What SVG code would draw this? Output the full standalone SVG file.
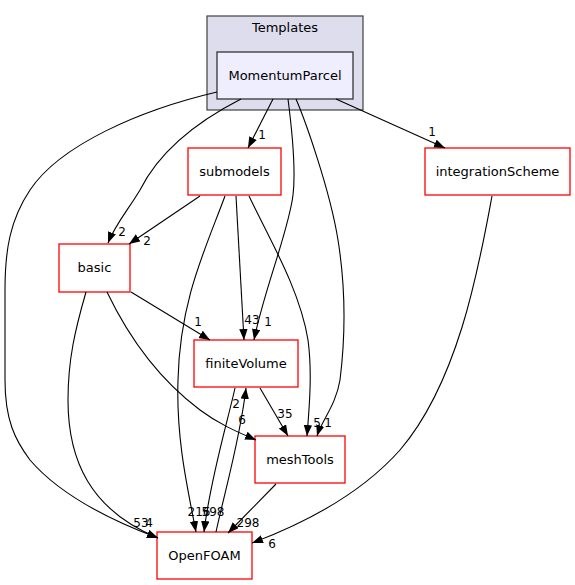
<svg xmlns="http://www.w3.org/2000/svg" width="575" height="585" viewBox="0 0 575 585">
<defs>
<marker id="ah" markerWidth="12" markerHeight="10" refX="11" refY="4.2" orient="auto" markerUnits="userSpaceOnUse">
<path d="M0,0 L11,4.2 L0,8.4 z" fill="#000"/>
</marker>
<style>
.n rect{fill:#fff;stroke:#ff0000;stroke-width:1.3}
.t{font-family:"DejaVu Sans",sans-serif;font-size:13px;fill:#000;text-anchor:middle}
.e path{fill:none;stroke:#000;stroke-width:1.1;marker-end:url(#ah)}
.e text{font-family:"DejaVu Sans",sans-serif;font-size:12px;fill:#000;text-anchor:middle}
</style>
</defs>
<rect width="575" height="585" fill="#fff"/>
<g id="cluster_Templates">
<rect x="207" y="16" width="156" height="94" fill="#ddddee" stroke="#404040" stroke-width="1.2"/>
<text class="t" x="285" y="32">Templates</text>
</g>
<g id="node_MomentumParcel">
<rect x="217" y="52" width="136" height="47" fill="#eeeeff" stroke="#404040" stroke-width="1.4"/>
<text class="t" x="285" y="80">MomentumParcel</text>
</g>
<g id="node_submodels" class="n">
<rect x="188" y="148" width="93" height="47"/>
<text class="t" x="234.5" y="176">submodels</text>
</g>
<g id="node_integrationScheme" class="n">
<rect x="425" y="148" width="145" height="47"/>
<text class="t" x="497.5" y="176">integrationScheme</text>
</g>
<g id="node_basic" class="n">
<rect x="59" y="244" width="71" height="48"/>
<text class="t" x="94.5" y="272">basic</text>
</g>
<g id="node_finiteVolume" class="n">
<rect x="194" y="340" width="104" height="47"/>
<text class="t" x="246" y="368">finiteVolume</text>
</g>
<g id="node_meshTools" class="n">
<rect x="255" y="436" width="90" height="47"/>
<text class="t" x="300" y="464">meshTools</text>
</g>
<g id="node_OpenFOAM" class="n">
<rect x="157" y="532" width="95" height="47"/>
<text class="t" x="204.5" y="560">OpenFOAM</text>
</g>
<g id="connectors" class="e">
<path d="M217,92 C140,110 60,145 30,190 C10,220 5,250 5,290 L5,380 C5,420 15,440 30,460 C60,495 110,520 158,538"/>
<text x="141" y="527">53</text>
<path d="M86,292 C75,330 68,360 68,400 C68,460 90,510 158,538"/>
<text x="149" y="527">4</text>
<path d="M241,99 C200,120 160,150 140,190 C128,210 115,225 108,243"/>
<text x="122" y="236">2</text>
<path d="M273,99 L248,148"/>
<text x="262" y="139">1</text>
<path d="M288,99 C292,130 296,170 293,195 C289,230 264,290 254,340"/>
<text x="268" y="326">1</text>
<path d="M296,99 C305,120 330,190 338,240 C346,290 345,340 340,380 C336,405 322,420 317,436"/>
<text x="328" y="427">1</text>
<path d="M336,99 L445,148"/>
<text x="432" y="136">1</text>
<path d="M200,196 L129,244"/>
<text x="147" y="245">2</text>
<path d="M236,196 L244,340"/>
<text x="252" y="324">43</text>
<path d="M249,196 C270,240 300,290 308,340 C312,370 310,400 307,436"/>
<text x="317" y="427">5</text>
<path d="M225,196 C205,250 180,300 178,380 C176,440 188,490 196,532"/>
<text x="199" y="516">216</text>
<path d="M131,292 L210,340"/>
<text x="198" y="326">1</text>
<path d="M107,292 C130,340 160,380 200,410 C220,425 240,433 256,440"/>
<text x="242" y="424">6</text>
<path d="M260,388 L288,436"/>
<text x="285" y="418">35</text>
<path d="M235,388 C228,420 210,480 204,532"/>
<text x="213" y="516">598</text>
<path d="M216,532 C225,490 240,440 246,388"/>
<text x="236" y="408">2</text>
<path d="M276,484 L228,533"/>
<text x="248" y="527">298</text>
<path d="M492,196 C480,260 460,380 400,450 C360,495 300,525 252,543"/>
<text x="272" y="548">6</text>
</g>
</svg>
